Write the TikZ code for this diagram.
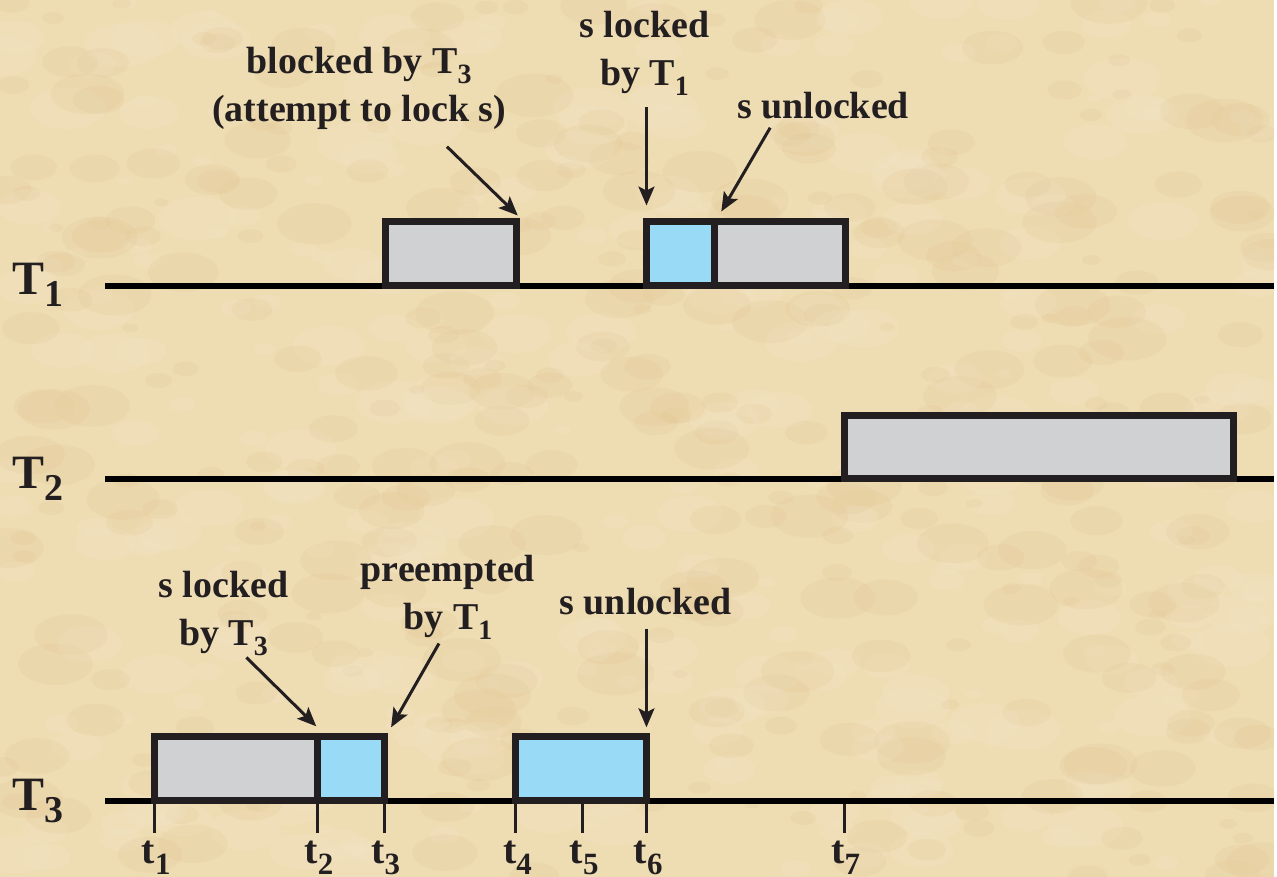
\documentclass[tikz,border=0pt]{standalone}
\usepackage{fontspec}
\setmainfont{Liberation Serif}[BoldFont={Liberation Serif Bold}]
\usetikzlibrary{arrows.meta}
\definecolor{bg}{HTML}{EEDCB3}
\definecolor{bgdark}{HTML}{DDBE88}
\definecolor{bglight}{HTML}{F7ECD4}
\definecolor{boxgray}{HTML}{D0D1D3}
\definecolor{boxblue}{HTML}{99DBF7}
\definecolor{ink}{HTML}{231F20}
\newcommand\sbs[3]{\raisebox{-#1pt}{\fontsize{#2}{#2}\selectfont #3}}
\begin{document}
\begin{tikzpicture}[x=1pt,y=-1pt,
  timeline/.style={line width=6pt, draw=black},
  runbox/.style={draw=ink, line width=7pt, fill=boxgray, inner sep=0pt, minimum height=64pt},
  lockbox/.style={draw=ink, line width=7pt, fill=boxblue, inner sep=0pt, minimum height=64pt},
  tickline/.style={draw=ink, line width=3pt},
  lbl/.style={font=\bfseries\fontsize{38}{48}\selectfont, align=center, inner sep=0pt, text=ink, anchor=north},
  task/.style={font=\bfseries\fontsize{48}{50}\selectfont, inner sep=0pt, anchor=base west, text=ink},
  tlbl/.style={font=\bfseries\fontsize{40}{40}\selectfont, inner sep=0pt, anchor=base west, text=ink},
  ptr/.style={draw=ink, line width=3pt, -{Stealth[length=19pt,width=16pt,inset=4pt]}}
]
% background
\path[fill=bg] (0,0) rectangle (1277,879);
\begin{scope}
\clip (0,0) rectangle (1277,879);
\pgfmathsetseed{11}
\foreach \i in {1,...,700}{
  \pgfmathsetmacro\cx{rnd*1277}
  \pgfmathsetmacro\cy{rnd*879}
  \pgfmathsetmacro\rr{4+rnd*18}
  \pgfmathsetmacro\pick{rnd}
  \ifdim\pick pt<0.5pt \def\cc{bgdark}\else\def\cc{bglight}\fi
  \fill[\cc, opacity=0.14] (\cx,\cy) ellipse [x radius=1.8*\rr, y radius=\rr];
}
\end{scope}

% task labels
\node[task] (T1) at (12,295) {T\sbs{12}{38}{1}};
\node[task] (T2) at (12,490) {T\sbs{12}{38}{2}};
\node[task] (T3) at (12,812) {T\sbs{12}{38}{3}};

% timelines
\coordinate (L1s) at (105,287); \coordinate (L1e) at (1277,287);
\coordinate (L2s) at (105,480); \coordinate (L2e) at (1277,480);
\coordinate (L3s) at (105,803); \coordinate (L3e) at (1277,803);
\draw[timeline] (L1s) -- (L1e);
\draw[timeline] (L2s) -- (L2e);
\draw[timeline] (L3s) -- (L3e);

% boxes T1
\node[runbox, minimum width=132pt] (T1a) at (452,254.5) {};
\node[runbox, minimum width=131pt] (T1c) at (781.5,254.5) {};
\node[lockbox, minimum width=68pt] (T1b) at (682,254.5) {};
% box T2
\node[runbox, minimum width=390pt] (T2a) at (1041,448) {};
% boxes T3
\node[runbox, minimum width=163pt] (T3a) at (236.5,770.5) {};
\node[lockbox, minimum width=67pt] (T3b) at (351.5,770.5) {};
\node[lockbox, minimum width=131pt] (T3c) at (582.5,770.5) {};

% ticks
\foreach \n/\x/\y in {1/155/803, 2/318/803, 3/385/803, 4/517/803, 5/584/803, 6/648/803, 7/846/806}{
  \coordinate (k\n top) at (\x,\y);
  \coordinate (k\n bot) at (\x,835);
  \draw[tickline] (k\n top) -- (k\n bot);
  \node[tlbl] (t\n) at (\x-13,866) {t\sbs{11}{31}{\n}};
}

% annotations, top
\node[lbl] (blk) at (360,47) {blocked by T\sbs{10}{28}{3}\\(attempt to lock s)};
\node[lbl] (lk1) at (646,11) {s locked\\by T\sbs{10}{28}{1}};
\node[lbl] (ul1) at (825,92) {s unlocked};
% annotations, bottom
\node[lbl] (lk3) at (224,572) {s locked\\by T\sbs{10}{28}{3}};
\node[lbl] (pre) at (449,556) {preempted\\by T\sbs{10}{28}{1}};
\node[lbl] (ul3) at (647,589) {s unlocked};

% arrows
\coordinate (a1s) at (448,147); \coordinate (a1e) at (519,216);
\coordinate (a2s) at (648,107); \coordinate (a2e) at (648,206);
\coordinate (a3s) at (772,128); \coordinate (a3e) at (723,212);
\coordinate (a4s) at (247,659); \coordinate (a4e) at (317,728);
\coordinate (a5s) at (440,645); \coordinate (a5e) at (392,729);
\coordinate (a6s) at (648,630); \coordinate (a6e) at (648,729);
\draw[ptr] (a1s) -- (a1e);
\draw[ptr] (a2s) -- (a2e);
\draw[ptr] (a3s) -- (a3e);
\draw[ptr] (a4s) -- (a4e);
\draw[ptr] (a5s) -- (a5e);
\draw[ptr] (a6s) -- (a6e);
\end{tikzpicture}
\end{document}
